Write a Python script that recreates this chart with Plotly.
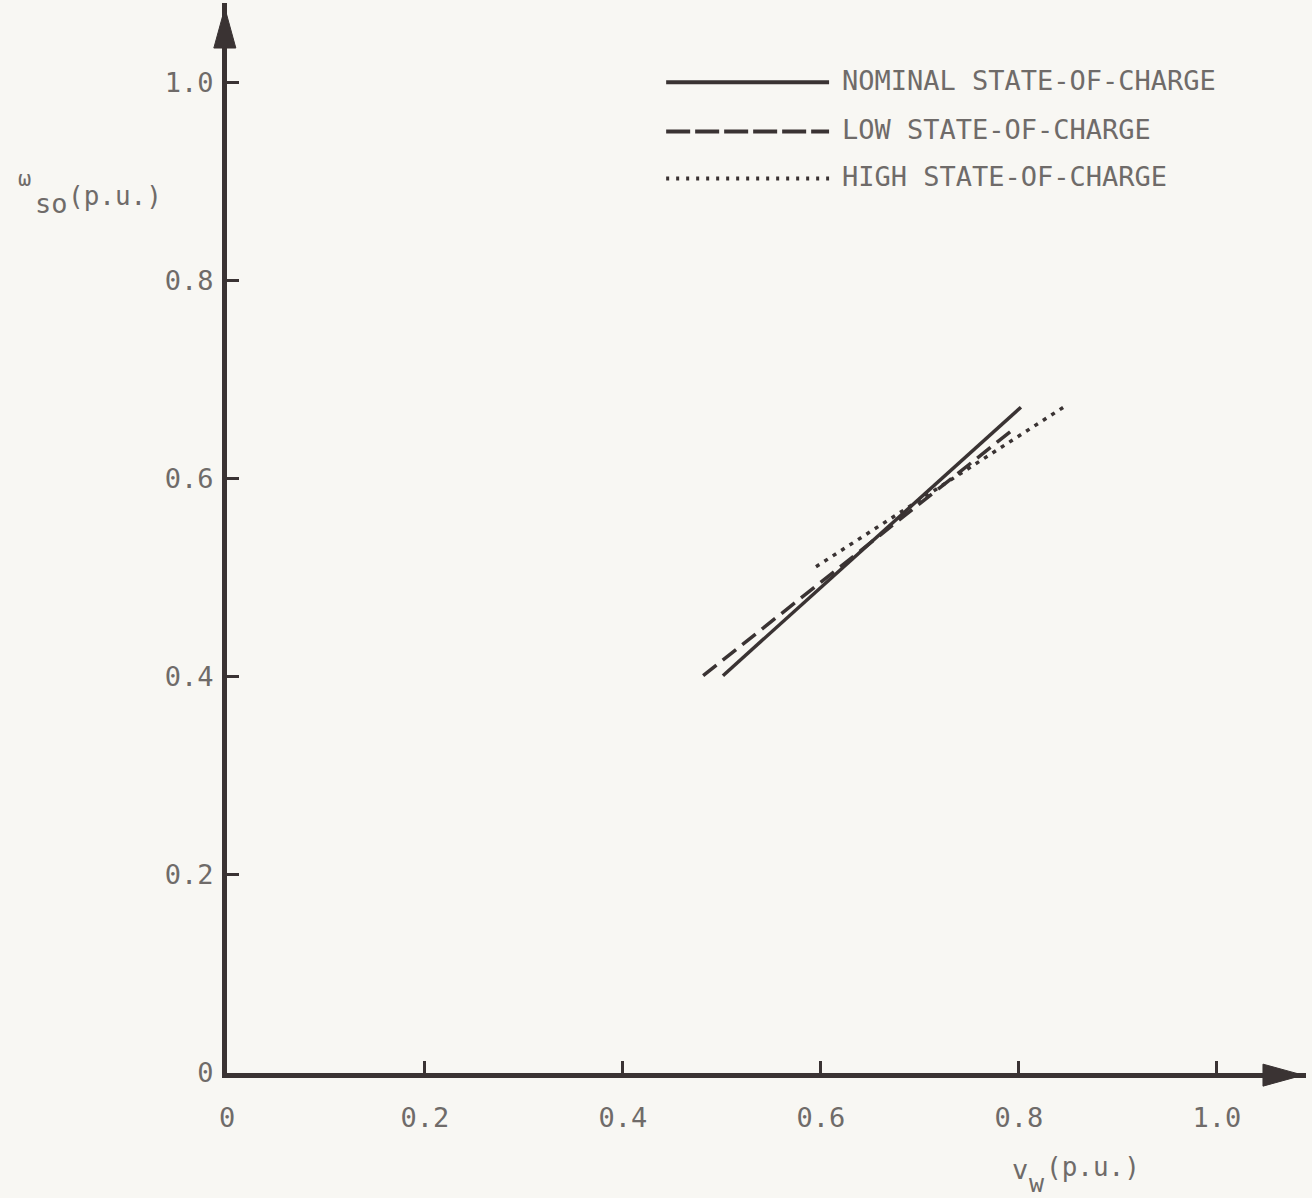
import plotly.graph_objects as go

# Speed curves, per-unit
nominal_x = [0.501, 0.802]
nominal_y = [0.401, 0.672]
low_x = [0.481, 0.796]
low_y = [0.401, 0.651]
high_x = [0.595, 0.845]
high_y = [0.511, 0.672]

tick_vals = [0, 0.2, 0.4, 0.6, 0.8, 1.0]
tick_text = ["0", "0.2", "0.4", "0.6", "0.8", "1.0"]

legend_labels = ["NOMINAL STATE-OF-CHARGE", "LOW STATE-OF-CHARGE", "HIGH STATE-OF-CHARGE"]

INK = "#3a3333"
TEXT = "#6f6b69"
BG = "#f8f7f3"
FONT = "DejaVu Sans Mono"

fig = go.Figure()
series = [
    (nominal_x, nominal_y, "solid", legend_labels[0]),
    (low_x, low_y, "17px,8px", legend_labels[1]),
    (high_x, high_y, "4px,6px", legend_labels[2]),
]
for xs, ys, dash, name in series:
    fig.add_trace(go.Scatter(x=xs, y=ys, mode="lines", name=name, showlegend=False,
                             line=dict(color=INK, width=3.5, dash=dash)))

axis_common = dict(
    showgrid=False, zeroline=False, showline=True, linecolor=INK, linewidth=5,
    ticks="inside", ticklen=12, tickwidth=3, tickcolor=INK,
    tickvals=tick_vals, ticktext=tick_text,
    tickfont=dict(family=FONT, size=27, color=TEXT),
)
fig.update_xaxes(range=[0, 1.09], ticklabelstandoff=17, **axis_common)
fig.update_yaxes(range=[0, 1.08], ticklabelstandoff=3, **axis_common)

# Arrowheads at the axis ends (paper coords, pixel-sized)
fig.add_shape(type="path", xref="paper", yref="paper", xsizemode="pixel", ysizemode="pixel",
              xanchor=0.9972, yanchor=-0.002, path="M -40 -11 L 0 0 L -40 11 Z",
              fillcolor=INK, line=dict(color=INK, width=1))
fig.add_shape(type="path", xref="paper", yref="paper", xsizemode="pixel", ysizemode="pixel",
              xanchor=-0.002, yanchor=0.9953, path="M -11 -40 L 0 0 L 11 -40 Z",
              fillcolor=INK, line=dict(color=INK, width=1))

# Key
key_y = [0.926, 0.880, 0.836]
key_dash = ["solid", "24px,5px", "3px,7px"]
for yk, dash, label in zip(key_y, key_dash, legend_labels):
    fig.add_shape(type="line", xref="paper", yref="paper", x0=0.407, x1=0.558, y0=yk, y1=yk,
                  line=dict(color=INK, width=4, dash=dash))
    fig.add_annotation(xref="paper", yref="paper", x=0.568, y=yk + 0.002, text=label,
                       showarrow=False, xanchor="left", yanchor="middle",
                       font=dict(family=FONT, size=27, color=TEXT))

# Axis titles: omega_so (p.u.) and v_w (p.u.) built from separate pieces
title_parts = [
    ("ω", -0.196, 0.8364, 22),
    ("so", -0.180, 0.813, 27),
    ("(p.u.)", -0.149, 0.8196, 26),
    ("v", 0.726, -0.090, 27),
    ("w", 0.741, -0.103, 25),
    ("(p.u.)", 0.757, -0.088, 26),
]
for txt, px, py, sz in title_parts:
    fig.add_annotation(xref="paper", yref="paper", x=px, y=py, xanchor="left", yanchor="middle",
                       text=txt, showarrow=False,
                       font=dict(family=FONT, size=sz, color=TEXT))

fig.update_layout(
    width=1312, height=1198,
    margin=dict(l=227, r=6, t=3, b=125),
    paper_bgcolor=BG, plot_bgcolor=BG,
    showlegend=False,
)

fig.write_html("out.html")
